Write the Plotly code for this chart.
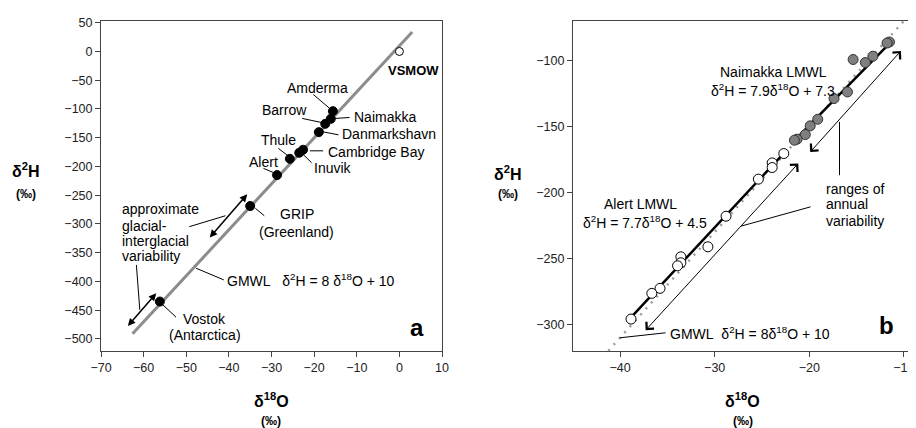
import plotly.graph_objects as go

FONT = "Liberation Sans, Arial, sans-serif"

# ---------------- Panel a data ----------------
stations = ["Amderma", "Naimakka", "Barrow", "Danmarkshavn", "Cambridge Bay",
            "Inuvik", "Thule", "Alert", "GRIP", "Vostok"]
a_d18O = [-15.6, -16.1, -17.4, -18.9, -22.6, -23.5, -25.7, -28.7, -35.0, -56.2]
a_d2H = [-103.8, -117.2, -125.9, -140.3, -171.0, -176.2, -186.7, -215.0, -268.8, -435.0]
vsmow_d18O = [0.0]
vsmow_d2H = [0.0]
gmwl_a_x = [-62.6, 3.0]
gmwl_a_y = [-491.0, 34.0]

# ---------------- Panel b data ----------------
naim_d18O = [-11.52, -11.77, -13.27, -14.07, -15.36, -15.96, -17.38, -19.1, -19.9, -20.42, -21.29, -21.57]
naim_d2H = [-85.9, -86.7, -96.7, -101.5, -99.2, -123.8, -128.8, -144.5, -149.5, -156.1, -159.6, -160.4]
alert_d18O = [-22.69, -23.92, -23.92, -25.38, -28.8, -30.72, -33.58, -33.58, -33.93, -35.78, -36.65, -38.85]
alert_d2H = [-170.5, -177.6, -181.1, -189.9, -218.0, -241.2, -248.8, -253.3, -255.6, -272.7, -276.5, -296.0]
alert_lmwl_x = [-38.75, -22.7]
alert_lmwl_y = [-293.9, -170.3]
naim_lmwl_x = [-21.6, -11.3]
naim_lmwl_y = [-160.8, -85.5]
gmwl_b_x = [-41.25, -10.0]
gmwl_b_y = [-320.0, -70.0]

fig = go.Figure()

# panel a
fig.add_trace(go.Scatter(x=gmwl_a_x, y=gmwl_a_y, mode="lines",
                         line=dict(color="#8c8c8c", width=3), xaxis="x", yaxis="y",
                         showlegend=False, hoverinfo="skip"))
fig.add_trace(go.Scatter(x=a_d18O, y=a_d2H, mode="markers", text=stations,
                         marker=dict(color="black", size=9, line=dict(color="black", width=1)),
                         xaxis="x", yaxis="y", showlegend=False))
fig.add_trace(go.Scatter(x=vsmow_d18O, y=vsmow_d2H, mode="markers",
                         marker=dict(color="white", size=8, line=dict(color="black", width=1)),
                         xaxis="x", yaxis="y", showlegend=False))

# panel b
fig.add_trace(go.Scatter(x=gmwl_b_x, y=gmwl_b_y, mode="lines",
                         line=dict(color="#9a9a9a", width=2.5, dash="2px,6px"),
                         xaxis="x2", yaxis="y2", showlegend=False, hoverinfo="skip"))
fig.add_trace(go.Scatter(x=alert_lmwl_x, y=alert_lmwl_y, mode="lines",
                         line=dict(color="black", width=2.5),
                         xaxis="x2", yaxis="y2", showlegend=False, hoverinfo="skip"))
fig.add_trace(go.Scatter(x=naim_lmwl_x, y=naim_lmwl_y, mode="lines",
                         line=dict(color="black", width=2.5),
                         xaxis="x2", yaxis="y2", showlegend=False, hoverinfo="skip"))
fig.add_trace(go.Scatter(x=alert_d18O, y=alert_d2H, mode="markers",
                         marker=dict(color="white", size=10, line=dict(color="black", width=1)),
                         xaxis="x2", yaxis="y2", showlegend=False))
fig.add_trace(go.Scatter(x=naim_d18O, y=naim_d2H, mode="markers",
                         marker=dict(color="#7f7f7f", size=10, line=dict(color="#333333", width=1)),
                         xaxis="x2", yaxis="y2", showlegend=False))

ann = []
shapes = []

def txt(x, y, s, xr="x", yr="y", xa="center", size=14, bold=False, ya="middle"):
    if bold:
        s = "<b>" + s + "</b>"
    ann.append(dict(x=x, y=y, xref=xr, yref=yr, text=s, showarrow=False,
                    xanchor=xa, yanchor=ya, font=dict(family=FONT, size=size, color="black")))

def seg(x0, y0, x1, y1, xr="x", yr="y", w=1):
    shapes.append(dict(type="line", x0=x0, y0=y0, x1=x1, y1=y1, xref=xr, yref=yr,
                       line=dict(color="black", width=w)))

def arrow(x0, y0, x1, y1, xr="x", yr="y", head=2, size=1.0, w=1.5):
    ann.append(dict(x=x1, y=y1, ax=x0, ay=y0, xref=xr, yref=yr, axref=xr, ayref=yr,
                    text="", showarrow=True, arrowhead=head, startarrowhead=head,
                    arrowside="end+start", arrowsize=size, startarrowsize=size,
                    arrowwidth=w, arrowcolor="black", standoff=0, startstandoff=0))

# ---- panel a labels ----
txt(-19.2, -64.4, "Amderma")
seg(-20.2, -74.8, -16.35, -99.1)
txt(-27.0, -102.1, "Barrow")
seg(-22.8, -116.5, -17.9, -124.1)
txt(-11.2, -114.8, "Naimakka", xa="left")
seg(-15.05, -116.5, -11.7, -114.8)
txt(-13.9, -144.3, "Danmarkshavn", xa="left")
seg(-17.9, -139.8, -14.3, -145.0)
txt(-28.3, -154.2, "Thule")
seg(-28.4, -168.6, -26.05, -182.0)
txt(-17.3, -174.5, "Cambridge Bay", xa="left")
seg(-21.0, -172.8, -17.9, -172.8)
txt(-20.5, -202.3, "Inuvik", xa="left")
seg(-22.6, -179.0, -20.6, -193.6)
txt(-31.9, -191.9, "Alert")
seg(-31.9, -203.3, -29.1, -212.0)
txt(-24.1, -283.2, "GRIP")
txt(-24.1, -313.4, "(Greenland)")
seg(-33.8, -272.8, -31.7, -285.7)
txt(-45.7, -464.5, "Vostok")
txt(-45.7, -494.0, "(Antarctica)")
seg(-55.5, -440.7, -52.4, -462.1)
txt(-40.8, -397.3, "GMWL\u00a0\u00a0\u00a0δ<sup>2</sup>H = 8 δ<sup>18</sup>O + 10", xa="left")
seg(-47.7, -377.0, -41.2, -397.3)
txt(-65.6, -274.4, "approximate", xa="left")
txt(-65.6, -303.0, "glacial-", xa="left")
txt(-65.6, -329.1, "interglacial", xa="left")
txt(-65.6, -355.7, "variability", xa="left")
seg(-49.3, -304.8, -40.8, -285.7)
seg(-61.7, -371.3, -60.9, -449.4)
arrow(-44.8, -326.1, -35.7, -248.5)
arrow(-64.0, -480.2, -57.05, -420.4)
txt(3.3, -33.8, "VSMOW", bold=True, size=13)
txt(4.1, -479.5, "a", bold=True, size=24)

# ---- panel b labels ----
txt(-23.8, -108.6, "Naimakka LMWL", xr="x2", yr="y2")
txt(-23.8, -122.0, "δ<sup>2</sup>H = 7.9δ<sup>18</sup>O + 7.3", xr="x2", yr="y2")
txt(-37.8, -208.9, "Alert LMWL", xr="x2", yr="y2")
txt(-37.4, -222.3, "δ<sup>2</sup>H = 7.7δ<sup>18</sup>O + 4.5", xr="x2", yr="y2")
txt(-18.45, -197.5, "ranges of", xr="x2", yr="y2", xa="left")
txt(-18.45, -209.1, "annual", xr="x2", yr="y2", xa="left")
txt(-18.45, -221.7, "variability", xr="x2", yr="y2", xa="left")
txt(-34.9, -306.8, "GMWL\u00a0\u00a0δ<sup>2</sup>H = 8δ<sup>18</sup>O + 10", xr="x2", yr="y2", xa="left")
txt(-11.8, -300.5, "b", xr="x2", yr="y2", bold=True, size=24)
seg(-16.8, -146.5, -16.8, -186.9, xr="x2", yr="y2")
seg(-19.86, -210.9, -27.2, -225.5, xr="x2", yr="y2")
seg(-40.04, -310.2, -35.2, -306.4, xr="x2", yr="y2")
arrow(-20.04, -170.5, -10.31, -92.7, xr="x2", yr="y2", head=4, size=2.0, w=1)
arrow(-37.45, -305.6, -21.16, -178.0, xr="x2", yr="y2", head=4, size=2.0, w=1)

# ---- axis titles (paper coords) ----
def ptxt(x, y, s, size):
    ann.append(dict(x=x, y=y, xref="paper", yref="paper", text="<b>" + s + "</b>",
                    showarrow=False, xanchor="center", yanchor="middle",
                    font=dict(family=FONT, size=size, color="black")))

ptxt(-0.0933, 0.548, "δ<sup>2</sup>H", 16)
ptxt(-0.0933, 0.476, "(‰)", 12)
ptxt(0.504, 0.5385, "δ<sup>2</sup>H", 16)
ptxt(0.504, 0.476, "(‰)", 12)
ptxt(0.211, -0.1485, "δ<sup>18</sup>O", 16)
ptxt(0.211, -0.2112, "(‰)", 12)
ptxt(0.794, -0.1485, "δ<sup>18</sup>O", 16)
ptxt(0.794, -0.2112, "(‰)", 12)

axis_common = dict(showgrid=False, zeroline=False, showline=True, linecolor="#444444",
                   linewidth=1, ticks="outside", ticklen=5, tickcolor="#444444",
                   tickfont=dict(family=FONT, size=12.5, color="#222222"))

# the page body adds an 8px offset, so the figure is 8px smaller on each axis
fig.update_layout(
    width=908, height=420,
    margin=dict(l=93, r=0, t=13, b=77),
    paper_bgcolor="white", plot_bgcolor="white",
    font=dict(family=FONT),
    xaxis=dict(domain=[0, 0.4221], range=[-70, 10], dtick=10, tick0=0, mirror=True, **axis_common),
    yaxis=dict(domain=[0, 1], range=[-521, 53], dtick=50, tick0=0, mirror=True, **axis_common),
    xaxis2=dict(domain=[0.584, 1], range=[-45, -9.45], dtick=10, tick0=0, mirror=True,
                anchor="y2", **axis_common),
    yaxis2=dict(domain=[0, 1], range=[-320.2, -70], dtick=50, tick0=0, anchor="x2",
                **axis_common),
    annotations=ann, shapes=shapes, showlegend=False,
)

fig.write_html("out.html")
